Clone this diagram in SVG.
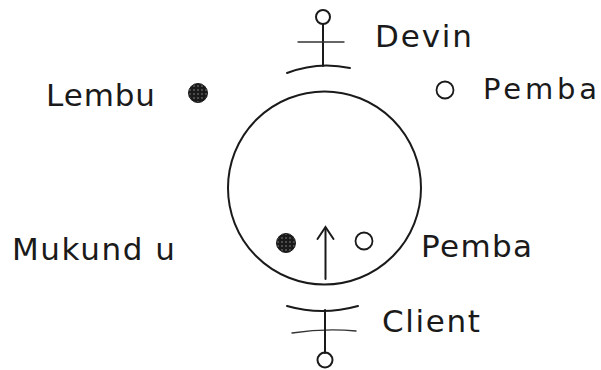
<svg xmlns="http://www.w3.org/2000/svg" width="601" height="370" viewBox="0 0 601 370">
  <defs>
    <pattern id="stip" width="4" height="4" patternUnits="userSpaceOnUse">
      <rect width="4" height="4" fill="#1a1a1a"/>
      <circle cx="2" cy="2" r="0.8" fill="#8a8a8a"/>
    </pattern>
  </defs>
  <style>
    .ln { fill: none; stroke: #1a1a1a; stroke-width: 2; stroke-linecap: round; }
    .thin { fill: none; stroke: #333; stroke-width: 1.4; stroke-linecap: round; }
    .open { fill: none; stroke: #1a1a1a; stroke-width: 1.8; }
    .dot { fill: url(#stip); stroke: #1a1a1a; stroke-width: 1; }
    .lbl { font-family: "DejaVu Sans", "Liberation Sans", sans-serif; font-size: 31px; fill: #1a1a1a; }
    .sm { font-size: 29px; }
  </style>
  <rect width="601" height="370" fill="#ffffff"/>

  <g id="ring">
    <circle class="ln" cx="324.5" cy="188" r="96.5"/>
  </g>

  <g id="devin">
    <circle class="ln" cx="323" cy="17" r="7"/>
    <line class="ln" x1="323" y1="24" x2="323" y2="66"/>
    <line class="thin" x1="298" y1="42" x2="344" y2="42"/>
    <path class="ln" d="M287,73 Q318,61 350,68"/>
    <text class="lbl" x="375" y="47" textLength="97" lengthAdjust="spacing">Devin</text>
  </g>

  <g id="client">
    <path class="ln" d="M287,306 Q322,316 358,306"/>
    <path class="thin" d="M292,333 Q325,328 356,331"/>
    <line class="ln" x1="325" y1="310" x2="325" y2="353"/>
    <circle class="ln" cx="325" cy="360" r="7.5"/>
    <text class="lbl" x="382" y="332" textLength="98" lengthAdjust="spacing">Client</text>
  </g>

  <g id="lembu">
    <text class="lbl" x="46" y="106" textLength="109" lengthAdjust="spacing">Lembu</text>
    <circle class="dot" cx="198" cy="93" r="9.5"/>
  </g>

  <g id="pemba-top">
    <circle class="open" cx="445" cy="90" r="8.5"/>
    <text class="lbl sm" x="483" y="99" textLength="114" lengthAdjust="spacing">Pemba</text>
  </g>

  <g id="mukundu">
    <text class="lbl" x="12" y="260" textLength="163" lengthAdjust="spacing">Mukund u</text>
    <circle class="dot" cx="286" cy="243" r="9.5"/>
  </g>

  <g id="pemba-bottom">
    <circle class="open" cx="364" cy="241" r="8.5"/>
    <text class="lbl" x="421" y="257" textLength="111" lengthAdjust="spacing">Pemba</text>
  </g>

  <g id="connectors">
    <line class="ln" x1="325.5" y1="279" x2="325.5" y2="228"/>
    <polyline class="ln" points="317.5,239 325.5,227 333.5,239"/>
  </g>
</svg>
